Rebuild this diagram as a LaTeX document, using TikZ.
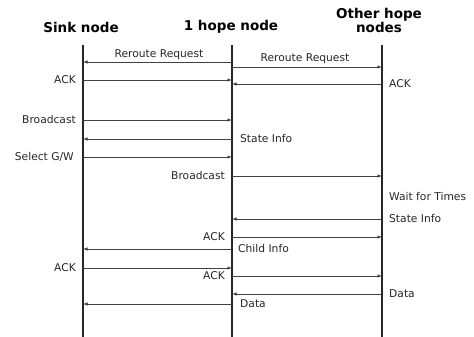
\documentclass[tikz,border=0pt]{standalone}
\usepackage{fontspec}
\setmainfont{DejaVu Sans}
\usetikzlibrary{arrows.meta}

\tikzset{
  lifeline/.style={line width=1.6pt, black!85},
  msg/.style={line width=0.8pt, black!75, -{Latex[length=4.5pt,width=3.5pt]}},
  lbl/.style={font=\fontsize{10.7}{12}\selectfont, text=black!85, inner sep=0pt},
  head/.style={font=\fontsize{13.5}{14}\selectfont\bfseries, inner sep=0pt, align=center}
}

\begin{document}
\begin{tikzpicture}[x=1pt,y=-1pt]
\useasboundingbox (0,0) rectangle (474,337);

% column heads
\node[head] (sink)  at (81,27)  {Sink node};
\node[head] (hop)   at (231,27) {1 hope node};
\node[head] (other) at (379,20) {Other hope\\nodes};

% lifelines
\draw (83,45) coordinate(s0)  (83,337) coordinate(s9)
      (232,45) coordinate(h0) (232,337) coordinate(h9)
      (382,45) coordinate(o0) (382,337) coordinate(o9);
\path[lifeline]
    (s0) edge (s9)
    (h0) edge (h9)
    (o0) edge (o9);

% message end points
\draw (83,62) coordinate(s1)   (232,62) coordinate(h1)
      (232,67) coordinate(h2)  (382,67) coordinate(o2)
      (83,80) coordinate(s3)   (232,80) coordinate(h3)
      (232,84) coordinate(h4)  (382,84) coordinate(o4)
      (83,120) coordinate(s5)  (232,120) coordinate(h5)
      (83,139) coordinate(s6)  (232,139) coordinate(h6)
      (83,157) coordinate(s7)  (232,157) coordinate(h7)
      (232,176) coordinate(h8) (382,176) coordinate(o8)
      (382,197) coordinate(o10)
      (232,219) coordinate(h11) (382,219) coordinate(o11)
      (232,237) coordinate(h12) (382,237) coordinate(o12)
      (83,249) coordinate(s13)  (232,249) coordinate(h13)
      (83,268) coordinate(s14)  (232,268) coordinate(h14)
      (232,276) coordinate(h15) (382,276) coordinate(o15)
      (232,294) coordinate(h16) (382,294) coordinate(o16)
      (83,304) coordinate(s17)  (232,304) coordinate(h17);

% messages
\path[msg]
    (h1) edge (s1)
    (h2) edge (o2)
    (s3) edge (h3)
    (o4) edge (h4)
    (s5) edge (h5)
    (h6) edge (s6)
    (s7) edge (h7)
    (h8) edge (o8)
    (o11) edge (h11)
    (h12) edge (o12)
    (h13) edge (s13)
    (s14) edge (h14)
    (h15) edge (o15)
    (o16) edge (h16)
    (h17) edge (s17);

% labels
\node[lbl] (l1) at (159,55) {Reroute Request};
\node[lbl] (l2) at (305,59) {Reroute Request};
\node[lbl, left=7pt]  (l3)  at (s3)  {ACK};
\node[lbl, right=7pt] (l4)  at (o4)  {ACK};
\node[lbl, left=7pt]  (l5)  at (s5)  {Broadcast};
\node[lbl, right=8pt] (l6)  at (h6)  {State Info};
\node[lbl, left=9pt]  (l7)  at (s7)  {Select G/W};
\node[lbl, left=7pt]  (l8)  at (h8)  {Broadcast};
\node[lbl, right=7pt] (l10) at (o10) {Wait for Times};
\node[lbl, right=7pt] (l11) at (o11) {State Info};
\node[lbl, left=7pt]  (l12) at (h12) {ACK};
\node[lbl, right=6pt] (l13) at (h13) {Child Info};
\node[lbl, left=7pt]  (l14) at (s14) {ACK};
\node[lbl, left=7pt]  (l15) at (h15) {ACK};
\node[lbl, right=7pt] (l16) at (o16) {Data};
\node[lbl, right=8pt] (l17) at (h17) {Data};
\end{tikzpicture}
\end{document}
